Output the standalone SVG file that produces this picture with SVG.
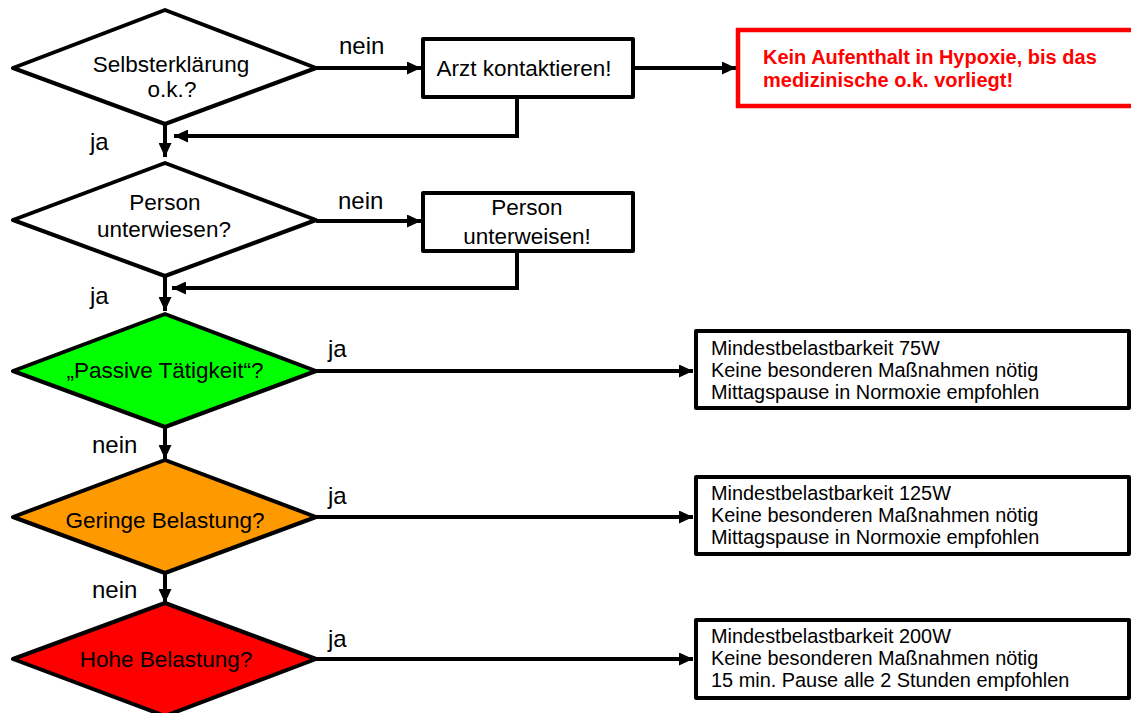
<svg xmlns="http://www.w3.org/2000/svg" width="1131" height="713" viewBox="0 0 1131 713">
<style>
  .shape { stroke: #000; stroke-width: 4; stroke-linejoin: round; }
  .dtext { font-family: "Liberation Sans", Arial, sans-serif; font-size: 22.5px; fill: #000; text-anchor: middle; }
  .lbl { font-family: "Liberation Sans", Arial, sans-serif; font-size: 24px; fill: #000; }
  .btext { font-family: "Liberation Sans", Arial, sans-serif; font-size: 19.9px; fill: #000; }
  .rtext { font-family: "Liberation Sans", Arial, sans-serif; font-size: 20px; font-weight: bold; fill: #FF0000; }
  .conn { fill: none; stroke: #000; stroke-width: 4; marker-end: url(#arrow); }
</style>
<defs>
  <marker id="arrow" markerUnits="userSpaceOnUse" markerWidth="15" markerHeight="13" refX="14" refY="6.5" orient="auto">
    <path d="M0,0 L14,6.5 L0,13 z" fill="#000"/>
  </marker>
</defs>
<rect width="1131" height="713" fill="#fff"/>

<g id="connectors">
  <path class="conn" d="M316,68 H421"/>
  <path class="conn" d="M633,68 H736"/>
  <path class="conn" d="M517,97 V136 H174"/>
  <path class="conn" d="M165,124 V157"/>
  <path class="conn" d="M316,221 H421"/>
  <path class="conn" d="M517,251 V288 H172"/>
  <path class="conn" d="M165,276 V311"/>
  <path class="conn" d="M316,371 H693"/>
  <path class="conn" d="M165,427 V459"/>
  <path class="conn" d="M316,517 H693"/>
  <path class="conn" d="M165,573 V603"/>
  <path class="conn" d="M316,659 H693"/>
</g>

<g id="labels">
  <text class="lbl" x="339" y="54">nein</text>
  <text class="lbl" x="90" y="150">ja</text>
  <text class="lbl" x="338" y="209">nein</text>
  <text class="lbl" x="90" y="304">ja</text>
  <text class="lbl" x="328" y="357">ja</text>
  <text class="lbl" x="92" y="453">nein</text>
  <text class="lbl" x="328" y="504">ja</text>
  <text class="lbl" x="92" y="598">nein</text>
  <text class="lbl" x="328" y="647">ja</text>
</g>

<g id="d1">
  <polygon class="shape" fill="#fff" points="13,68 165,10 316,68 165,124"/>
  <text class="dtext" x="171" y="72">Selbsterklärung</text>
  <text class="dtext" x="172" y="97">o.k.?</text>
</g>

<g id="arzt">
  <rect class="shape" fill="#fff" x="423" y="39" width="210" height="58"/>
  <text class="dtext" x="524" y="76">Arzt kontaktieren!</text>
</g>

<g id="warnung">
  <rect x="738" y="30" width="400" height="76" fill="#fff" stroke="#FF0000" stroke-width="4.5"/>
  <text class="rtext" x="763" y="64">Kein Aufenthalt in Hypoxie, bis das</text>
  <text class="rtext" x="763" y="87">medizinische o.k. vorliegt!</text>
</g>

<g id="d2">
  <polygon class="shape" fill="#fff" points="13,220 165,163 316,220 165,276"/>
  <text class="dtext" x="165" y="210">Person</text>
  <text class="dtext" x="164" y="237">unterwiesen?</text>
</g>

<g id="unterweisen">
  <rect class="shape" fill="#fff" x="423" y="193" width="210" height="58"/>
  <text class="dtext" x="527" y="215">Person</text>
  <text class="dtext" x="527" y="244">unterweisen!</text>
</g>

<g id="d3">
  <polygon class="shape" fill="#00FF00" points="13,371 165,314 316,371 165,427"/>
  <text class="dtext" x="165" y="378">„Passive Tätigkeit“?</text>
</g>

<g id="b1">
  <rect class="shape" fill="#fff" x="696" y="331" width="433" height="77"/>
  <text class="btext" x="711" y="355">Mindestbelastbarkeit 75W</text>
  <text class="btext" x="711" y="377">Keine besonderen Maßnahmen nötig</text>
  <text class="btext" x="711" y="399">Mittagspause in Normoxie empfohlen</text>
</g>

<g id="d4">
  <polygon class="shape" fill="#FF9900" points="13,517 165,460 316,517 165,573"/>
  <text class="dtext" x="165" y="528">Geringe Belastung?</text>
</g>

<g id="b2">
  <rect class="shape" fill="#fff" x="696" y="477" width="433" height="77"/>
  <text class="btext" x="711" y="500">Mindestbelastbarkeit 125W</text>
  <text class="btext" x="711" y="522">Keine besonderen Maßnahmen nötig</text>
  <text class="btext" x="711" y="544">Mittagspause in Normoxie empfohlen</text>
</g>

<g id="d5">
  <polygon class="shape" fill="#FF0000" points="13,659 165,603 316,659 165,716"/>
  <text class="dtext" x="166" y="667">Hohe Belastung?</text>
</g>

<g id="b3">
  <rect class="shape" fill="#fff" x="696" y="620" width="433" height="78"/>
  <text class="btext" x="711" y="643">Mindestbelastbarkeit 200W</text>
  <text class="btext" x="711" y="665">Keine besonderen Maßnahmen nötig</text>
  <text class="btext" x="711" y="687">15 min. Pause alle 2 Stunden empfohlen</text>
</g>
</svg>
